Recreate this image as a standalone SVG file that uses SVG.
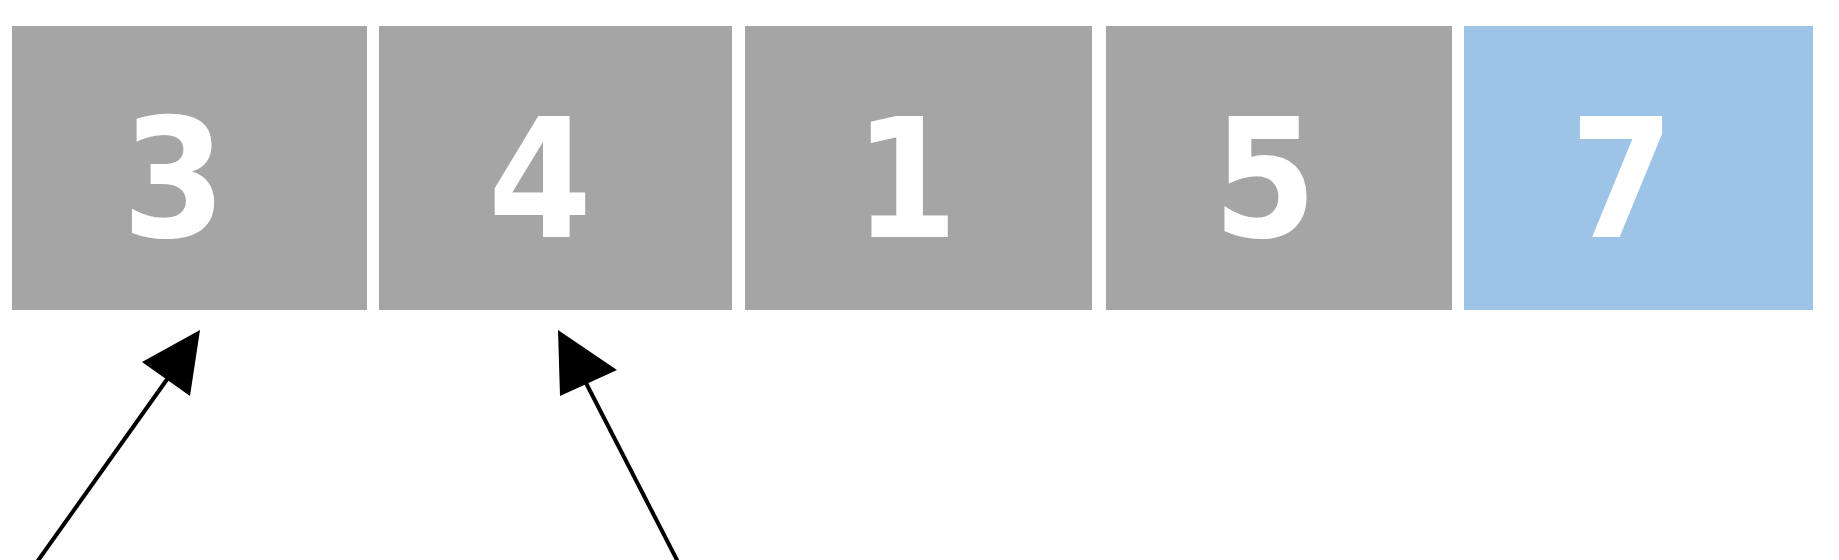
<svg xmlns="http://www.w3.org/2000/svg" width="1839" height="560" viewBox="0 0 1839 560">
<style>
.cell{fill:#A5A5A5}
.hl{fill:#9DC3E6}
.num{font-family:"DejaVu Sans Condensed","DejaVu Sans",Verdana,sans-serif;font-stretch:condensed;font-weight:bold;font-size:166px;fill:#FFFFFF;text-anchor:middle}
</style>
<rect width="1839" height="560" fill="#FFFFFF"/>
<g id="cell-3"><rect class="cell" x="12" y="26" width="355" height="284"/><text class="num" x="174" y="237">3</text></g>
<g id="cell-4"><rect class="cell" x="379" y="26" width="353" height="284"/><text class="num" x="540" y="237">4</text></g>
<g id="cell-1"><rect class="cell" x="745" y="26" width="347" height="284"/><text class="num" x="906" y="237">1</text></g>
<g id="cell-5"><rect class="cell" x="1106" y="26" width="346" height="284"/><text class="num" x="1265" y="237">5</text></g>
<g id="cell-7"><rect class="hl" x="1464" y="26" width="349" height="284"/><text class="num" x="1622" y="237">7</text></g>
<g id="connectors">
<line x1="37" y1="562" x2="168" y2="378" stroke="#000" stroke-width="4"/>
<polygon points="200,330 142,362 190,396" fill="#000"/>
<line x1="678" y1="562" x2="586" y2="383" stroke="#000" stroke-width="4"/>
<polygon points="558,330 560,396 617,370" fill="#000"/>
</g>
</svg>
